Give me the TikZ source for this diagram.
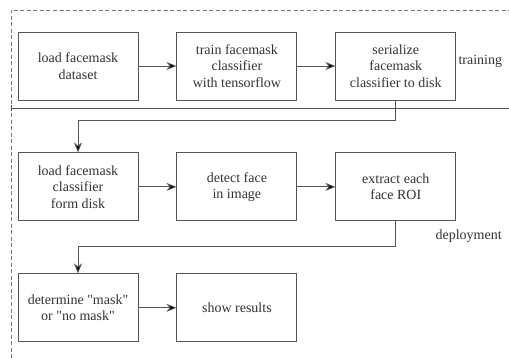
\documentclass[tikz,border=0pt]{standalone}
\usepackage{fontspec}
\setmainfont{Liberation Serif}
\usepackage{xcolor}
\usetikzlibrary{positioning,arrows.meta}
\definecolor{boxline}{HTML}{555555}
\definecolor{boxtext}{HTML}{333333}

\begin{document}
\begin{tikzpicture}[
    stepbox/.style={draw=boxline, line width=0.9pt, text=boxtext, align=center,
        minimum width=120pt, minimum height=68pt, inner sep=2pt,
        font=\fontsize{14}{16.5}\selectfont},
    flow/.style={draw=boxline, line width=0.8pt, -{Stealth[length=10pt,width=8pt,fill=black]}},
    phase/.style={text=boxtext, anchor=west, font=\fontsize{14}{16.5}\selectfont},
    node distance=52pt and 38pt
]

\useasboundingbox (0pt,0pt) rectangle (509pt,-358pt);

% training row
\node[stepbox] (loaddata) at (78pt,-66pt) {load facemask\\dataset};
\node[stepbox, right=of loaddata] (trainclf) {train facemask\\classifier\\with tensorflow};
\node[stepbox, right=of trainclf] (serialclf) {serialize\\facemask\\classifier to disk};

% deployment rows
\node[stepbox, below=of loaddata] (loadclf) {load facemask\\classifier\\form disk};
\node[stepbox, right=of loadclf] (detectface) {detect face\\in image};
\node[stepbox, right=of detectface] (extractroi) {extract each\\face ROI};
\node[stepbox, below=of loadclf] (decide) {determine \textquotedbl mask\textquotedbl\\or \textquotedbl no mask\textquotedbl};
\node[stepbox, right=of decide] (showres) {show results};

% phase labels
\node[phase] (trainlbl) at (455pt,-61pt) {training};
\node[phase] (deploylbl) at (432pt,-236pt) {deployment};

% frame and separator
\coordinate (ftl) at (11pt,-10pt);
\draw[boxline!80, dash pattern=on 4pt off 2.5pt, line width=0.7pt] (ftl |- 0,-358pt) -- (ftl) -- (509pt,-10pt);
\draw[boxline, line width=0.8pt] (11pt,-108pt) -- (509pt,-108pt);
\draw[boxline, line width=0.8pt] (11pt,-105pt) -- (11pt,-111pt);

% connectors
\draw[flow] (loaddata) -- (trainclf);
\draw[flow] (trainclf) -- (serialclf);
\draw[flow] (serialclf.south) -- ++(0,-20pt) -| (loadclf.north);
\draw[flow] (loadclf) -- (detectface);
\draw[flow] (detectface) -- (extractroi);
\draw[flow] (extractroi.south) -- ++(0,-25pt) -| (decide.north);
\draw[flow] (decide) -- (showres);

\end{tikzpicture}
\end{document}
